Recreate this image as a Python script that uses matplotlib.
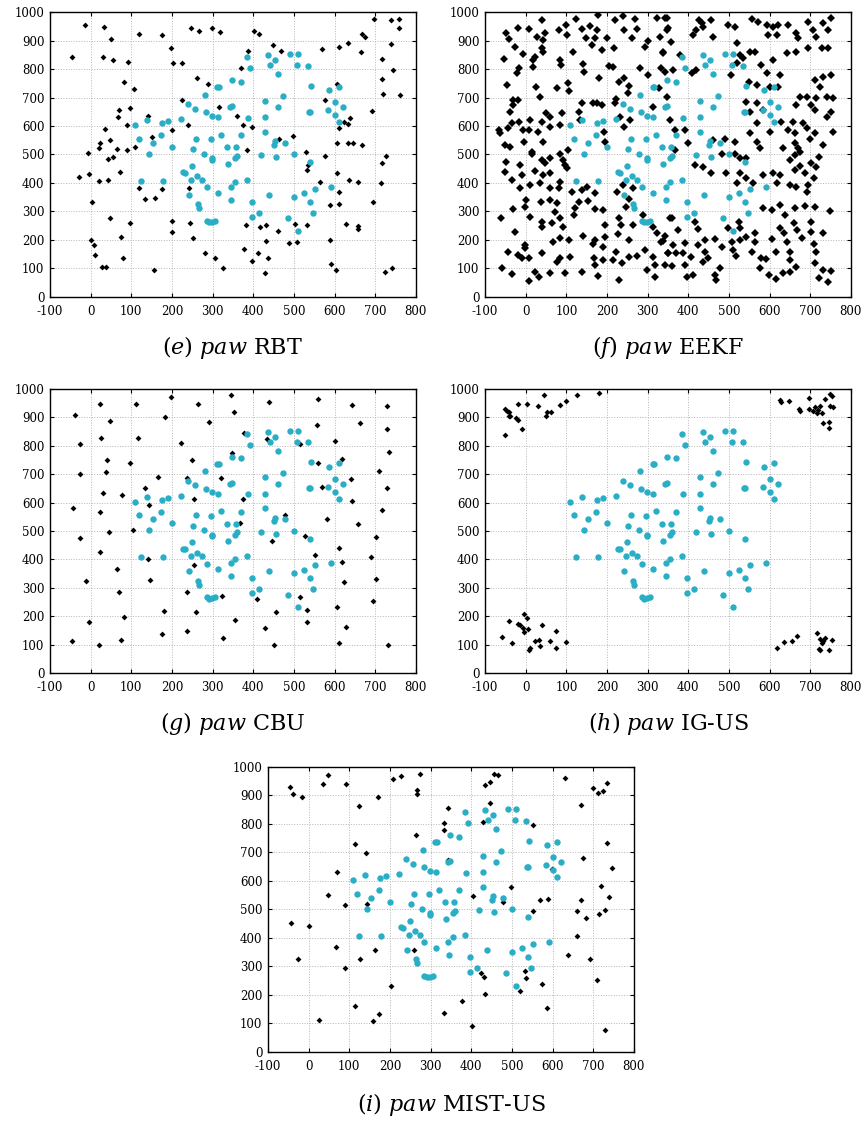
import matplotlib
matplotlib.use("Agg")
import matplotlib.pyplot as plt

plt.rcParams['font.family'] = 'DejaVu Serif'
plt.rcParams['mathtext.fontset'] = 'custom'
plt.rcParams['mathtext.it'] = 'DejaVu Serif:italic'
plt.rcParams['mathtext.rm'] = 'DejaVu Serif'
plt.rcParams['axes.unicode_minus'] = False

# cyan reference points (same in every panel)
paw_x = [109, 139, 120, 144, 123, 154, 173, 176, 191, 199, 178, 222, 239, 257, 282, 284, 298, 314, 312, 316,
         347, 370, 343, 347, 320, 296, 260, 252, 279, 298, 299, 250, 228, 232, 247, 261, 273, 285, 241, 265,
         266, 285, 292, 298, 305, 313, 336, 358, 371, 339, 356, 361, 344, 355, 346, 384, 387, 384, 391, 397,
         397, 413, 429, 429, 430, 419, 438, 435, 441, 454, 461, 460, 473, 452, 454, 456, 479, 491, 509, 507,
         534, 543, 536, 540, 499, 540, 499, 524, 540, 553, 548, 485, 511, 587, 610, 601, 620, 585, 602, 612,
         592]
paw_y = [604, 620, 555, 502, 408, 542, 567, 610, 616, 528, 408, 624, 678, 661, 710, 649, 636, 631, 736, 737,
         761, 756, 667, 669, 569, 554, 555, 519, 502, 487, 481, 461, 437, 435, 411, 424, 411, 385, 359, 325,
         311, 266, 262, 264, 267, 366, 526, 526, 567, 465, 487, 495, 387, 403, 340, 411, 629, 842, 803, 335,
         281, 296, 580, 631, 689, 498, 359, 849, 813, 830, 782, 665, 705, 535, 546, 491, 542, 851, 853, 815,
         812, 742, 650, 650, 501, 472, 352, 364, 333, 380, 296, 276, 232, 727, 738, 684, 665, 656, 637, 613,
         387]

# RBT
rbt_x = [-13, 34, -47, 30, 51, 56, 93, 118, 176, 197, 203, 224, 247, 266, 298, 317, 402, 415, 386, 370,
         448, 467, 568, 611, 633, 668, 676, 665, 698, 740, 758, 758, 740, 717, 743, 716, 720, 761, 607, 576,
         691, 82, 107, 262, 288, 224, 70, 97, 68, 142, 36, 90, 199, 239, 315, 361, 375, 397, 24, 48,
         21, 66, 89, 109, 152, -7, 56, 43, 71, -3, -28, 21, 43, 118, 134, 158, 176, 241, 4, 48,
         98, 201, 199, 244, 252, 74, 2, 9, 11, 29, 37, 80, 157, 281, 307, 325, 381, 416, 431, 431,
         376, 411, 398, 435, 430, 462, 487, 503, 531, 530, 535, 533, 565, 497, 464, 384, 589, 611, 610, 589,
         591, 603, 628, 657, 607, 636, 657, 695, 715, 717, 726, 607, 633, 646, 668, 610, 633, 638, 622, 577,
         507, 741, 725, 657]
rbt_y = [955, 947, 841, 841, 906, 830, 823, 924, 918, 873, 821, 821, 943, 932, 945, 930, 932, 924, 862, 804,
         883, 864, 870, 877, 891, 924, 911, 858, 977, 971, 977, 944, 889, 836, 797, 766, 713, 708, 748, 692,
         653, 755, 729, 767, 748, 692, 657, 664, 632, 635, 591, 603, 587, 603, 666, 635, 604, 598, 539, 551,
         522, 518, 516, 526, 560, 506, 492, 485, 440, 433, 420, 407, 410, 381, 345, 348, 378, 383, 334, 277,
         261, 265, 229, 261, 208, 210, 199, 182, 146, 104, 106, 138, 96, 156, 138, 100, 252, 247, 254, 195,
         170, 156, 127, 137, 84, 231, 191, 256, 252, 508, 464, 444, 402, 564, 556, 515, 322, 328, 367, 199,
         115, 95, 256, 250, 434, 410, 404, 334, 400, 469, 496, 539, 539, 539, 533, 592, 607, 627, 614, 495,
         193, 100, 88, 237]

# EEKF
eekf_x = [-49, -41, -26, -20, 7, 41, 27, 48, 43, 39, -7, -53, 17, 23, 42, 19, 84, 86, -16, -22,
          83, 99, 102, 125, 138, 159, 148, 171, 163, 117, 141, 144, 179, 176, 188, 200, 220, 240, 269, 242,
          273, 261, 218, 206, 216, 230, 242, 255, 252, 181, 175, 138, 222, 293, 302, 322, 343, 348, 330, 339,
          334, 281, 302, 329, 312, -47, 25, 35, 76, 105, 107, -30, -18, -32, -39, 50, 60, 89, 39, 11,
          -16, -34, -66, -63, -43, -6, 7, 30, 60, 84, 42, -3, -52, -39, 15, 105, 130, 134, 166, 187,
          219, 193, 195, 232, 243, 256,
          348, 351, 357, 379, 427, 433, 457, 420, 437, 412, 461, 498, 515, 519, 556, 572, 593, 609, 621, 597,
          617, 646, 666, 670, 695, 707, 715, 732, 752, 744, 338, 527, 535, 552, 564, 580, 609, 642, 666, 695,
          728, 744, 519, 343, 363, 408, 420, 506, 550, 568, 593, 625, 601, 621, 711, 732, 724, 752, 347, 675,
          691, 715, 740, 756, 543, 568, 552, 584, 666, 703, 711, 752, 740, 355, 568, 629, 658, 683, 367, 392,
          552, 601, 646, 662, 691, 711, 756, 699, 461, 490, 515, 367, 400, 568, 576, 634, 662, 670, 732,
          -48, -51, -14, 15, 39, 47, 60, 84, 93, 97, -10, 23, 43, 60, 84, 102, -34, 11, 35, -14,
          60, 82, 113, 138, 150, 170, 2, 38, 60, 76, 130, 154, -2, -30, 72, 84, 121, 119, 170, 191,
          -61, 11, 39, 41, 64, 93, -26, 142, 107, 84, 67, 170, 166, 191, 195, 195, -2, -2, -43, -18,
          -10, 7, 39, 84, 76, 109, 168, 170, 191, 222, 216, 236, 255, 273, 230, 138, 97, 60, 23, 34,
          7, -34, -59, 179, 224, 255, 247, 230, 234, 265, 228, 253, 289, 314, 322, 343, 334, 293, 314, 319,
          298, 319, 343, 351, 355, 265, 240,
          416, 437, 457, 482, 494, 515, 527, 543, 527, 543, 519, 560, 584, 609, 625, 650, 662, 675, 675, 662,
          687, 703, 722, 714, 617, 650, 666, 695, 709, 691, 584, 605, 625, 638, 662, 687, 711, 748, 361, 375,
          416, 425, 498, 527, 525, 565, 625, 635, 660, 668, 703, 703, 732, 338, 363, 392, 425, 441, 466, 482,
          507, 527, 542, 564, 605, 642, 679, 709, 351, 371, 388, 406, 441, 449, 435, 509, 517, 556, 580, 591,
          615, 650, 650, 713, 359, 392, 396, 412, 466, 478, 468, 576, 599, 615, 633, 650, 664, 711, 732, 750,
          722, 744]
eekf_y = [925, 907, 878, 945, 940, 972, 913, 925, 902, 873, 851, 834, 832, 843, 858, 808, 832, 814, 802, 785,
          937, 954, 919, 975, 940, 952, 908, 908, 884, 861, 816, 791, 989, 937, 867, 910, 972, 987, 975, 937,
          940, 908, 873, 812, 808, 753, 770, 740, 715, 770, 680, 680, 695, 878, 898, 978, 978, 937, 913, 861,
          802, 802, 779, 732, 668, 744, 738, 703, 732, 750, 723, 691, 691, 674, 650, 644, 633, 644, 615, 621,
          615, 609, 586, 574, 592, 586, 586, 580, 598, 603, 545, 545, 533, 527, 510, 516, 650, 621, 680, 674,
          680, 580, 545, 633, 598, 621,
          978, 943, 896, 849, 972, 960, 972, 937, 949, 919, 913, 954, 949, 890, 974, 966, 954, 949, 954, 919,
          919, 954, 925, 908, 966, 937, 913, 960, 978, 937, 855, 849, 837, 861, 861, 814, 832, 855, 861, 873,
          873, 873, 820, 791, 796, 785, 796, 779, 756, 744, 785, 779, 738, 738, 761, 773, 738, 779, 703, 703,
          703, 697, 703, 697, 685, 680, 650, 656, 674, 674, 656, 650, 633, 621, 609, 615, 615, 609, 586, 586,
          574, 580, 586, 574, 592, 574, 580, 556, 551, 556, 545, 516, 539, 545, 522, 522, 539, 522, 533,
          475, 440, 463, 502, 481, 469, 487, 502, 481, 463, 428, 443, 428, 434, 405, 451, 411, 393, 399, 381,
          381, 381, 370, 375, 387, 364, 340, 335, 340, 329, 335, 338, 317, 308, 299, 276, 311, 288, 308, 305,
          276, 282, 264, 244, 258, 247, 229, 214, 200, 206, 194, 200, 186, 177, 212, 253, 182, 171, 159, 147,
          136, 136, 153, 136, 122, 142, 136, 112, 130, 159, 130, 118, 142, 144, 60, 87, 85, 85, 89, 71,
          56, 80, 101, 74, 370, 343, 315, 276, 253, 253, 221, 200, 288, 244, 223, 215, 194, 165, 142, 112,
          95, 71, 112, 153, 276, 381, 393,
          463, 457, 434, 502, 434, 502, 487, 487, 434, 416, 399, 399, 428, 436, 428, 481, 498, 510, 460, 446,
          434, 469, 492, 457, 399, 393, 387, 393, 416, 370, 311, 305, 323, 288, 311, 319, 316, 303, 276, 235,
          264, 240, 243, 241, 264, 226, 243, 226, 261, 235, 264, 229, 226, 198, 182, 188, 182, 200, 202, 177,
          194, 200, 212, 194, 202, 194, 206, 186, 153, 156, 153, 142, 159, 136, 124, 165, 144, 159, 136, 132,
          159, 159, 130, 159, 109, 112, 71, 77, 77, 101, 60, 101, 77, 62, 83, 89, 104, 118, 95, 92,
          65, 54]

# CBU
cbu_x = [-38, 23, 48, 112, 197, 265, 344, 352, 438, 560, 642, 728, 183, 290, 662, 557, 728, -25, 25, 116,
         222, 376, 434, 514, 601, 347, 249, 39, 96, -27, 37, 165, 236, 321, 559, 618, 709, 734, 641, 728,
         569, 133, 30, 76, 144, 254, 374, 642, -43, 24, 478, 582, 716, 657, 368, 103, 46, -26, 446, 528,
         701, 611, 23, 142, 254, 551, 619, 690, 66, -11, 145, 624, 701, 69, 237, 322, 409, 514, 694, 181,
         258, 455, 532, 606, 81, -4, 356, 428, 531, 628, 238, 176, 325, -45, 75, 21, 450, 612, 731]
cbu_y = [909, 949, 888, 947, 971, 947, 981, 920, 953, 966, 945, 942, 900, 885, 879, 874, 858, 807, 829, 829,
         809, 847, 825, 806, 818, 776, 752, 752, 740, 701, 708, 692, 687, 686, 739, 754, 713, 780, 684, 651,
         654, 652, 635, 626, 591, 614, 613, 606, 582, 567, 555, 541, 573, 526, 527, 504, 496, 476, 464, 482,
         479, 439, 427, 400, 382, 416, 392, 407, 368, 324, 328, 322, 332, 287, 287, 272, 262, 268, 252, 219,
         214, 216, 221, 231, 196, 179, 187, 158, 178, 161, 147, 136, 124, 114, 116, 98, 100, 107, 100]

# IG-US
igus_x = [-51, -40, -38, -47, -20, -18, -52, -8, 4, 30, 44, 52, 49, 62, 85, 99, 126, 181, -41, -24,
          -59, -34, -40, -3, 3, -14, -18, -6, 5, -4, 11, 8, 23, 34, 35, 39, 60, 75, 74, 99,
          626, 628, 648, 673, 675, 697, 696, 708, 716, 720, 724, 729, 737, 749, 753, 749, 757, 731, 747, 747,
          712, 618, 636, 655, 667, 716, 724, 732, 737, 753, 722, 725, 747, 730]
igus_y = [930, 918, 904, 924, 892, 948, 837, 859, 947, 942, 978, 921, 906, 919, 945, 957, 980, 988, 906, 897,
          126, 106, 182, 208, 194, 170, 172, 158, 155, 143, 88, 82, 114, 117, 96, 170, 111, 148, 88, 108,
          962, 954, 957, 930, 922, 968, 930, 924, 915, 927, 941, 915, 965, 984, 974, 939, 937, 880, 883, 863,
          937, 88, 108, 112, 129, 141, 120, 114, 123, 117, 85, 80, 80, 105]

# MIST-US
mist_x = [-47, -39, -16, 47, 35, 91, 125, 170, 207, 226, 275, 267, 267, 344, 332, 333, 265, 113, 142, 70,
          48, 89, 143, -44, 0, 67, -25, 126, 90, 163, 258, 202, 114, 26, 158, 173, 332, 377, 401, 342,
          425, 432, 433, 405, 428, 447, 447, 434, 455, 467, 551, 497, 478, 551, 531, 534, 519, 574, 587, 568,
          589, 599, 631, 659, 638, 659, 670, 683, 671, 674, 693, 699, 712, 725, 733, 733, 747, 718, 739, 713,
          730, 710, 729]
mist_y = [929, 905, 896, 973, 939, 942, 863, 894, 959, 968, 975, 920, 907, 856, 802, 780, 761, 731, 697, 630,
          551, 517, 518, 454, 442, 370, 325, 327, 295, 357, 358, 230, 163, 111, 108, 132, 138, 179, 91, 674,
          278, 263, 202, 547, 806, 873, 947, 936, 974, 973, 798, 578, 527, 495, 284, 261, 213, 237, 156, 533,
          537, 641, 961, 406, 339, 496, 534, 471, 866, 680, 325, 926, 910, 915, 943, 733, 646, 581, 544, 484,
          498, 251, 77]

panels = [
    ("e", "RBT", rbt_x, rbt_y, [0.0578, 0.7353, 0.423, 0.254], 0.690),
    ("f", "EEKF", eekf_x, eekf_y, [0.5607, 0.7353, 0.423, 0.254], 0.690),
    ("g", "CBU", cbu_x, cbu_y, [0.0578, 0.4002, 0.423, 0.253], 0.355),
    ("h", "IG-US", igus_x, igus_y, [0.5607, 0.4002, 0.423, 0.253], 0.355),
    ("i", "MIST-US", mist_x, mist_y, [0.3098, 0.0624, 0.423, 0.254], 0.0152),
]

cyan = '#2aaec6'

fig = plt.figure(figsize=(8.65, 11.22), dpi=100)

for letter, name, bx, by, pos, cap_y in panels:
    ax = fig.add_axes(pos)
    ax.set_xlim(-100, 800)
    ax.set_ylim(0, 1000)
    ax.set_xticks(range(-100, 801, 100))
    ax.set_yticks(range(0, 1001, 100))
    ax.grid(True, color='#b5b5b5', linestyle=':', linewidth=0.7)
    ax.set_axisbelow(True)
    ax.tick_params(direction='in', top=True, right=True, length=3, width=0.8,
                   labelsize=8.5)
    ax.tick_params(axis='x', pad=6)
    ax.tick_params(axis='y', pad=4)
    for s in ax.spines.values():
        s.set_linewidth(1.0)
    ms = 3.6 if letter == "f" else 3.0
    ax.plot(bx, by, 'D', color='black', markersize=ms, markeredgewidth=0, zorder=3)
    ax.plot(paw_x, paw_y, 'o', color=cyan, markersize=4.6, markeredgewidth=0, zorder=4)
    cx = pos[0] + pos[2] / 2
    fig.text(cx, cap_y, r"$\mathit{(" + letter + r")\ paw}$ " + name,
             ha='center', va='center', fontsize=16)

fig.savefig("out.png", dpi=100)
